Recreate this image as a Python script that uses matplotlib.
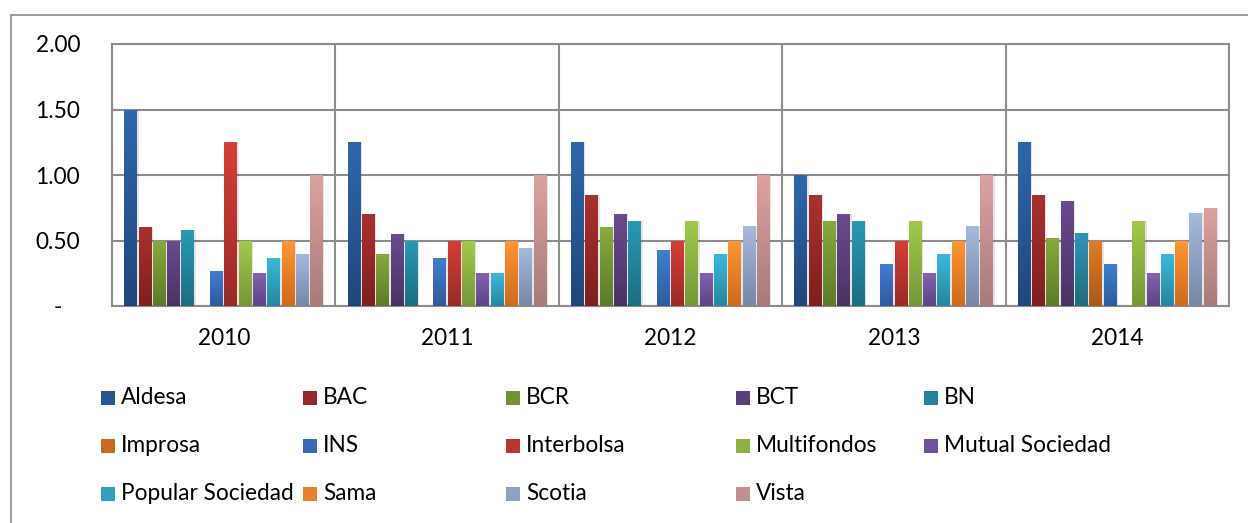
import numpy as np
import matplotlib
matplotlib.use("Agg")
import matplotlib.pyplot as plt
from matplotlib.colors import LinearSegmentedColormap, to_rgb
from matplotlib.patches import Rectangle

years = ["2010", "2011", "2012", "2013", "2014"]
series = ["Aldesa", "BAC", "BCR", "BCT", "BN", "Improsa", "INS", "Interbolsa",
          "Multifondos", "Mutual Sociedad", "Popular Sociedad", "Sama", "Scotia", "Vista"]

aldesa      = [1.50, 1.25, 1.25, 1.00, 1.25]
bac         = [0.60, 0.70, 0.85, 0.85, 0.85]
bcr         = [0.50, 0.40, 0.60, 0.65, 0.52]
bct         = [0.50, 0.55, 0.70, 0.70, 0.80]
bn          = [0.58, 0.50, 0.65, 0.65, 0.56]
improsa     = [0.00, 0.00, 0.00, 0.00, 0.50]
ins         = [0.27, 0.37, 0.43, 0.32, 0.32]
interbolsa  = [1.25, 0.50, 0.50, 0.50, 0.00]
multifondos = [0.50, 0.50, 0.65, 0.65, 0.65]
mutual      = [0.25, 0.25, 0.25, 0.25, 0.25]
popular     = [0.37, 0.25, 0.40, 0.40, 0.40]
sama        = [0.50, 0.50, 0.50, 0.50, 0.50]
scotia      = [0.40, 0.44, 0.61, 0.61, 0.71]
vista       = [1.00, 1.00, 1.00, 1.00, 0.75]

values = [aldesa, bac, bcr, bct, bn, improsa, ins, interbolsa,
          multifondos, mutual, popular, sama, scotia, vista]

# (top colour, bottom colour)
colors = [("#2F67AC", "#21467A"), ("#AA312F", "#7E1F1F"), ("#88AA3D", "#5D7A2A"),
          ("#6B4A90", "#4A3363"), ("#2A99B5", "#1D6D80"), ("#E27B24", "#AE5914"),
          ("#3D80D2", "#2C5C9C"), ("#D63D39", "#9C2927"), ("#A2CA4A", "#759739"),
          ("#8261B2", "#5D4585"), ("#3ABADE", "#25879D"), ("#FF9532", "#CF6A1F"),
          ("#A6BADF", "#7787A5"), ("#DDA2A1", "#A77B7B")]

W, H = 1248, 523
fig = plt.figure(figsize=(W / 100, H / 100), dpi=100)
font = ["Lato", "DejaVu Sans"]
plt.rcParams["font.family"] = font
FS = 16.3

# outer chart border
fig.patches.append(Rectangle((11 / W, -0.1), 1.2, (1 - 15 / H) + 0.1, transform=fig.transFigure,
                             fill=False, edgecolor="#8A8A8A", linewidth=1.2, zorder=0))

ax = fig.add_axes([112 / W, 1 - 306 / H, (1229 - 112) / W, (306 - 44) / H])

n = len(series)
slot = 0.064
bw = 0.058
x = np.arange(len(years))
for i, (name, vals, (ctop, cbot)) in enumerate(zip(series, values, colors)):
    pos = x + (i - (n - 1) / 2) * slot
    # soft shadow
    ax.bar(pos + 0.006, vals, width=bw, color="#000000", alpha=0.10, zorder=2, linewidth=0)
    bars = ax.bar(pos, vals, width=bw, color=ctop, zorder=3, linewidth=0, label=name)
    cmap = LinearSegmentedColormap.from_list(name, [cbot, ctop])
    grad = np.linspace(0, 1, 64).reshape(-1, 1)
    for b in bars:
        h = b.get_height()
        if h <= 0:
            continue
        im = ax.imshow(grad, extent=[b.get_x(), b.get_x() + b.get_width(), 0, h],
                       origin="lower", aspect="auto", cmap=cmap, zorder=4)
        im.set_clip_path(b)

ax.set_xlim(-0.5, len(years) - 0.5)
ax.set_ylim(0, 2.0)
ax.set_yticks([0, 0.5, 1.0, 1.5, 2.0])
ax.set_yticklabels(["-   ", "0.50", "1.00", "1.50", "2.00"])
ax.set_xticks(x)
ax.set_xticklabels(years)
for b in np.arange(0.5, len(years) - 0.5, 1):
    ax.axvline(b, color="#8C8C8C", linewidth=1.5, zorder=1)
ax.grid(axis="y", color="#8C8C8C", linewidth=1.5, zorder=1)
ax.set_axisbelow(True)
for s in ax.spines.values():
    s.set_color("#8C8C8C")
    s.set_linewidth(1.5)
ax.tick_params(axis="both", length=0, labelsize=FS, colors="#000000")
ax.tick_params(axis="y", pad=23)
ax.tick_params(axis="x", pad=16)

# legend (row-major, Excel style)
col_x = [101, 303, 506, 736, 924]
row_y = [398, 446, 494]
for i, (name, (ctop, cbot)) in enumerate(zip(series, colors)):
    r, c = divmod(i, 5)
    sx, sy = col_x[c], row_y[r]
    mid = tuple((np.array(to_rgb(ctop)) + np.array(to_rgb(cbot))) / 2)
    fig.patches.append(Rectangle((sx / W, 1 - (sy + 7) / H), 14 / W, 14 / H,
                                 transform=fig.transFigure, facecolor=mid, edgecolor="none"))
    fig.text((sx + 20) / W, 1 - sy / H, name, fontsize=FS, va="center", ha="left", color="#000000")

fig.savefig("out.png", dpi=100)
